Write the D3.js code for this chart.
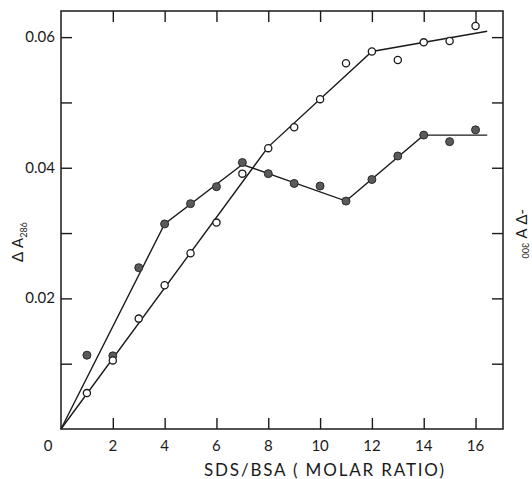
<!DOCTYPE html>
<html>
<head>
<meta charset="utf-8">
<script src="https://cdn.jsdelivr.net/npm/d3@7"></script>
<style>
    body { margin: 0; background: #fff; }
    svg { display: block; }
</style>
</head>
<body>
<div id="plotsContainer"></div>
<script>
// SDS/BSA molar ratio for each measured point
const sdsRatio = [1, 2, 3, 4, 5, 6, 7, 8, 9, 10, 11, 12, 13, 14, 15, 16];
// open circles: delta A 286
const deltaA286 = [0.0055, 0.0105, 0.0169, 0.0220, 0.0269, 0.0316, 0.0391, 0.0430,
    0.0462, 0.0505, 0.0560, 0.0578, 0.0565, 0.0592, 0.0594, 0.0617];
// filled circles: -delta A 300
const deltaA300 = [0.0113, 0.0112, 0.0247, 0.0314, 0.0345, 0.0371, 0.0408, 0.0391,
    0.0376, 0.0372, 0.0349, 0.0382, 0.0418, 0.0450, 0.0440, 0.0458];

// hand drawn fit lines (break points)
const fit286X = [0, 8, 12, 16.45];
const fit286Y = [0, 0.0432, 0.0578, 0.0609];
const fit300X = [0, 4, 7, 11, 14, 16.45];
const fit300Y = [0, 0.0314, 0.0405, 0.0349, 0.0450, 0.0450];

const xTickValues = [2, 4, 6, 8, 10, 12, 14, 16];
const xTickLabels = ["2", "4", "6", "8", "10", "12", "14", "16"];
const yTickValues = [0.01, 0.02, 0.03, 0.04, 0.05, 0.06];
const yTickLabels = ["0.02", "0.04", "0.06"];
const yLabelValues = [0.02, 0.04, 0.06];

const width = 532;
const height = 479;
const marginTop = 11;
const marginRight = 29;
const marginBottom = 50;
const marginLeft = 61;
const tickLen = 11;
const font = "Lato, 'Open Sans', sans-serif";
const ink = "#1a1a1a";

const x = d3.scaleLinear()
    .domain([0, 17.06])
    .range([marginLeft, width - marginRight]);

const y = d3.scaleLinear()
    .domain([0, 0.064])
    .range([height - marginBottom, marginTop]);

const svg = d3.select("#plotsContainer")
    .append("svg")
    .attr("width", width)
    .attr("height", height);

// frame
svg.append("rect")
    .attr("x", x(0))
    .attr("y", y(0.064))
    .attr("width", x(17.06) - x(0))
    .attr("height", y(0) - y(0.064))
    .attr("fill", "none")
    .attr("stroke", ink)
    .attr("stroke-width", 1.5);

// inward ticks, bottom + top
svg.append("g")
    .attr("transform", `translate(0,${y(0)})`)
    .call(d3.axisBottom(x).tickValues(xTickValues).tickSize(-tickLen).tickFormat(""))
    .call(g => g.select(".domain").remove());
svg.append("g")
    .attr("transform", `translate(0,${y(0.064)})`)
    .call(d3.axisTop(x).tickValues(xTickValues).tickSize(-tickLen).tickFormat(""))
    .call(g => g.select(".domain").remove());

// inward ticks, left + right
svg.append("g")
    .attr("transform", `translate(${x(0)},0)`)
    .call(d3.axisLeft(y).tickValues(yTickValues).tickSize(-tickLen).tickFormat(""))
    .call(g => g.select(".domain").remove());
svg.append("g")
    .attr("transform", `translate(${x(17.06)},0)`)
    .call(d3.axisRight(y).tickValues(yTickValues).tickSize(-tickLen).tickFormat(""))
    .call(g => g.select(".domain").remove());

svg.selectAll(".tick line")
    .attr("stroke", ink)
    .attr("stroke-width", 1.4);

// x tick labels
svg.append("g")
    .selectAll("text")
    .data(xTickValues)
    .enter()
    .append("text")
    .attr("x", (d) => x(d))
    .attr("y", y(0) + 22)
    .attr("text-anchor", "middle")
    .style("font-family", font)
    .style("font-size", "15px")
    .style("fill", ink)
    .text((d, i) => xTickLabels[i]);

svg.append("text")
    .attr("x", x(0) - 13)
    .attr("y", y(0) + 22)
    .attr("text-anchor", "middle")
    .style("font-family", font)
    .style("font-size", "15px")
    .style("fill", ink)
    .text("0");

// y tick labels
svg.append("g")
    .selectAll("text")
    .data(yLabelValues)
    .enter()
    .append("text")
    .attr("x", x(0) - 6)
    .attr("y", (d) => y(d) + 5)
    .attr("text-anchor", "end")
    .style("font-family", font)
    .style("font-size", "15px")
    .style("fill", ink)
    .text((d, i) => yTickLabels[i]);

// x axis title
svg.append("text")
    .attr("x", 204)
    .attr("y", 476)
    .attr("textLength", 240)
    .attr("lengthAdjust", "spacing")
    .style("font-family", font)
    .style("font-size", "17px")
    .style("fill", ink)
    .text("SDS/BSA ( MOLAR RATIO)");

// left title, reads upward
const leftTitle = svg.append("text")
    .attr("transform", "translate(23,262) rotate(-90)")
    .style("font-family", font)
    .style("font-size", "15px")
    .style("fill", ink);
leftTitle.append("tspan").text("\u0394 A");
leftTitle.append("tspan")
    .attr("dy", 4)
    .style("font-size", "9px")
    .text("286");

// right title (mirrored in the scan), reads downward
const rightTitle = svg.append("text")
    .attr("transform", "translate(527,209) rotate(90) scale(1,-1)")
    .style("font-family", font)
    .style("font-size", "15px")
    .style("fill", ink);
rightTitle.append("tspan").text("-\u0394 A");
rightTitle.append("tspan")
    .attr("dx", 4)
    .attr("dy", 2)
    .style("font-size", "9px")
    .text("300");

// fit lines
const line = d3.line()
    .x((d) => x(d[0]))
    .y((d) => y(d[1]));

svg.append("path")
    .datum(d3.zip(fit300X, fit300Y))
    .attr("d", line)
    .attr("fill", "none")
    .attr("stroke", ink)
    .attr("stroke-width", 1.4);

svg.append("path")
    .datum(d3.zip(fit286X, fit286Y))
    .attr("d", line)
    .attr("fill", "none")
    .attr("stroke", ink)
    .attr("stroke-width", 1.4);

// filled points first, open points on top
svg.append("g")
    .selectAll("circle")
    .data(d3.zip(sdsRatio, deltaA300))
    .enter()
    .append("circle")
    .attr("cx", (d) => x(d[0]))
    .attr("cy", (d) => y(d[1]))
    .attr("r", 4)
    .attr("fill", "#5a5a5a")
    .attr("stroke", "#2a2a2a")
    .attr("stroke-width", 1);

svg.append("g")
    .selectAll("circle")
    .data(d3.zip(sdsRatio, deltaA286))
    .enter()
    .append("circle")
    .attr("cx", (d) => x(d[0]))
    .attr("cy", (d) => y(d[1]))
    .attr("r", 3.6)
    .attr("fill", "#fff")
    .attr("stroke", ink)
    .attr("stroke-width", 1.3);
</script>
</body>
</html>
